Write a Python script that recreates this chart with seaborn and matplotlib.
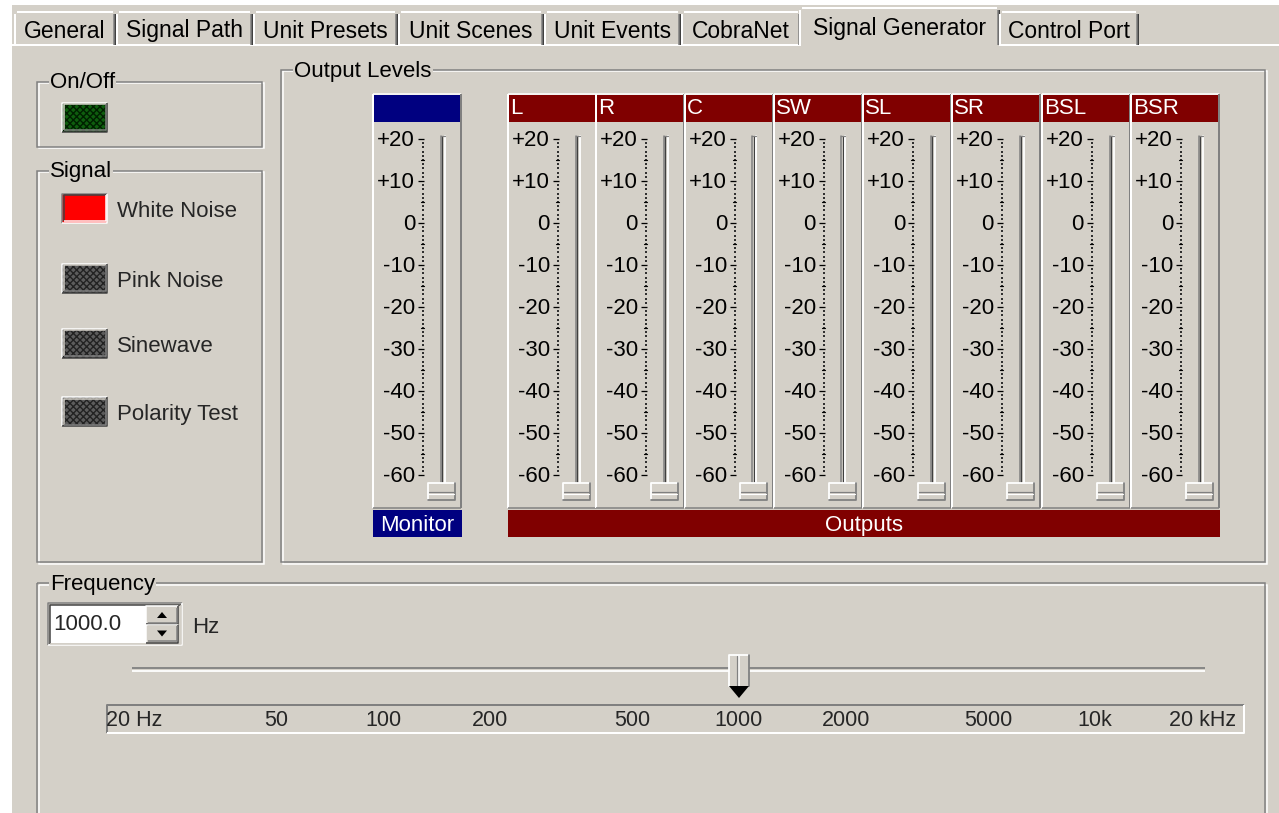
import numpy as np
import matplotlib
matplotlib.use("Agg")
import matplotlib.pyplot as plt
from matplotlib.patches import Rectangle, Polygon
import seaborn as sns

# ---- data ----
tab_names = ["General", "Signal Path", "Unit Presets", "Unit Scenes", "Unit Events",
             "CobraNet", "Signal Generator", "Control Port"]
active_tab = "Signal Generator"
signal_names = ["White Noise", "Pink Noise", "Sinewave", "Polarity Test"]
signal_active = [True, False, False, False]
power_on = True
channel_names = ["L", "R", "C", "SW", "SL", "SR", "BSL", "BSR"]
db_ticks = [20, 10, 0, -10, -20, -30, -40, -50, -60]
db_labels = ["+20", "+10", "0", "-10", "-20", "-30", "-40", "-50", "-60"]
monitor_db = -64.0
output_db = [-64.0, -64.0, -64.0, -64.0, -64.0, -64.0, -64.0, -64.0]
freq_ticks = [20, 50, 100, 200, 500, 1000, 2000, 5000, 10000, 20000]
freq_labels = ["20 Hz", "50", "100", "200", "500", "1000", "2000", "5000", "10k", "20 kHz"]
freq_value = 1000.0

# ---- layout (pixels) ----
W, H = 1279, 813
PX = 0.72  # points per pixel at dpi 100
FACE = "#d4d0c8"
SHADOW = "#808080"
DARK = "#404040"
NAVY = "#000080"
MAROON = "#800000"
tab_edges = [14, 116, 253, 398, 544, 681, 801, 999, 1139]
monitor_x = 373
strip_x = [508, 596, 685, 774, 863, 952, 1042, 1131]
strip_w = 89
strip_top, strip_bot = 122, 508
db_px_top, db_px_per_db = 139, 4.2
signal_y = [208, 278, 343, 411]
FS = 16

sns.set_theme(style="white")
plt.rcParams["font.family"] = ["Liberation Sans", "DejaVu Sans"]

fig = plt.figure(figsize=(W / 100, H / 100), dpi=100)
fig.patch.set_facecolor("white")
ui = fig.add_axes([0, 0, 1, 1])
ui.set_xlim(0, W)
ui.set_ylim(H, 0)
ui.axis("off")


def line(xs, ys, color, lw=1.5, z=3):
    ui.plot(xs, ys, color=color, lw=lw * PX, solid_capstyle="butt", zorder=z)


def bevel(x0, y0, x1, y1, tl, br, lw=1.5, z=3):
    line([x0, x0, x1], [y1, y0, y0], tl, lw, z)
    line([x0, x1, x1], [y1, y1, y0], br, lw, z)


def raised(x0, y0, x1, y1, z=3):
    bevel(x0, y0, x1, y1, "white", DARK, 1.5, z)
    bevel(x0 + 1.5, y0 + 1.5, x1 - 1.5, y1 - 1.5, FACE, SHADOW, 1.5, z)


def sunken(x0, y0, x1, y1, z=3):
    bevel(x0, y0, x1, y1, SHADOW, "white", 1.5, z)
    bevel(x0 + 1.5, y0 + 1.5, x1 - 1.5, y1 - 1.5, DARK, FACE, 1.5, z)


def etched(x0, y0, x1, y1, label, lx):
    ui.add_patch(Rectangle((x0 + 1.5, y0 + 1.5), x1 - x0, y1 - y0, fill=False,
                           ec="white", lw=1.5 * PX, zorder=2))
    ui.add_patch(Rectangle((x0, y0), x1 - x0, y1 - y0, fill=False,
                           ec=SHADOW, lw=1.5 * PX, zorder=2))
    ui.text(lx, y0 + 1, label, fontsize=FS, va="center", ha="left", color="black", zorder=4,
            bbox=dict(fc=FACE, ec="none", pad=1.0))


# window background
ui.add_patch(Rectangle((12, 5), W - 12, H - 5, fc=FACE, ec="none", zorder=0))

# ---- tabs ----
line([12, tab_edges[6]], [45, 45], "white", 2)
line([tab_edges[7], W], [45, 45], "white", 2)
for i, name in enumerate(tab_names):
    x0, x1 = tab_edges[i] + 1, tab_edges[i + 1] - 1
    sel = name == active_tab
    top = 8 if sel else 12
    if sel:
        x0 -= 2
        x1 += 1
    line([x0, x0], [45, top + 2], "white", 2)
    line([x0 + 2, x1 - 2], [top, top], "white", 2)
    line([x1, x1], [top + 2, 45], DARK, 2)
    line([x1 - 1.5, x1 - 1.5], [top + 2, 45], SHADOW, 1.5)
    ui.text((x0 + x1) / 2, 28.5 if sel else 31, name, fontsize=FS + 0.5, ha="center",
            va="center", color="black", zorder=4)

# ---- group boxes ----
etched(37, 82, 262, 147, "On/Off", 50)
etched(37, 171, 262, 562, "Signal", 50)
etched(281, 70, 1265, 562, "Output Levels", 294)
etched(37, 583, 1265, 840, "Frequency", 50)

# on/off button
ui.add_patch(Rectangle((62, 103), 45, 29, fc="#0e5e0e" if power_on else "#5a5a5a",
                       ec="#002000", hatch="xxxxx", lw=0, zorder=2))
raised(62, 103, 107, 132)

# signal buttons
for name, y, on in zip(signal_names, signal_y, signal_active):
    if on:
        ui.add_patch(Rectangle((62, y - 14), 45, 29, fc="red", ec="none", zorder=2))
        bevel(62, y - 14, 107, y + 15, SHADOW, "white", 1.5)
        bevel(63.5, y - 12.5, 105.5, y + 13.5, DARK, "white", 1.5)
    else:
        ui.add_patch(Rectangle((62, y - 14), 45, 29, fc="#5c5c5c", ec="#222222",
                               hatch="xxxxx", lw=0, zorder=2))
        raised(62, y - 14, 107, y + 15)
    ui.text(117, y + 3, name, fontsize=FS, ha="left", va="center", zorder=4)


# ---- level strips ----
db_top = db_ticks[0] + (db_px_top - strip_top) / db_px_per_db
db_bot = db_top - (strip_bot - strip_top) / db_px_per_db


def strip(x0, header, header_col, level):
    # chrome
    ui.add_patch(Rectangle((x0, 95), strip_w - 1, 27, fc=header_col, ec="none", zorder=2))
    line([x0, x0 + strip_w - 1], [94, 94], "white", 1.5)
    line([x0, x0], [94, strip_bot], "white", 2)
    line([x0 + strip_w - 1, x0 + strip_w - 1], [94, strip_bot], SHADOW, 2)
    line([x0, x0 + strip_w - 1], [strip_bot, strip_bot], SHADOW, 1.5)
    if header:
        ui.text(x0 + 2, 109, header, fontsize=FS, color="white", ha="left",
                va="center", zorder=4)
    # scale axes in dB
    ax = fig.add_axes([x0 / W, 1 - strip_bot / H, strip_w / W, (strip_bot - strip_top) / H])
    ax.set_xlim(0, strip_w)
    ax.set_ylim(db_bot, db_top)
    ax.axis("off")
    ax.patch.set_alpha(0)
    for v, lab in zip(db_ticks, db_labels):
        ax.text(42, v - 0.4, lab, fontsize=FS, ha="right", va="center", color="black")
        ax.plot([45, 51], [v, v], color="black", lw=1.3 * PX, solid_capstyle="butt")
    minor = np.array([d for d in range(db_ticks[-1], db_ticks[0]) if d % 10])
    sns.scatterplot(x=np.full(minor.size, 50.0), y=minor, ax=ax, s=1.6, color="#303030",
                    marker="s", linewidth=0, legend=False)
    half = minor[minor % 5 == 0]
    for v in half:
        ax.plot([48, 51], [v, v], color="black", lw=1.2 * PX)
    # groove
    g_top, g_bot = 20.6, -64.8
    ax.plot([67.5, 67.5], [g_bot, g_top], color=SHADOW, lw=1.5 * PX)
    ax.plot([69, 69], [g_bot, g_top], color=DARK, lw=1.2 * PX)
    ax.plot([71.5, 71.5], [g_bot, g_top], color="white", lw=1.8 * PX)
    ax.plot([67.5, 71.5], [g_top, g_top], color=SHADOW, lw=1.2 * PX)
    # thumb
    th = 2.0
    ax.add_patch(Rectangle((55, level - th), 27, 2 * th, fc=FACE, ec="none", zorder=3))
    ax.plot([55, 55, 82], [level - th, level + th, level + th], color="white", lw=1.8 * PX, zorder=4)
    ax.plot([55, 82, 82], [level - th, level - th, level + th], color=SHADOW, lw=1.8 * PX, zorder=4)
    ax.plot([56, 81], [level - 0.15, level - 0.15], color=SHADOW, lw=1.2 * PX, zorder=4)
    ax.plot([56, 81], [level - 0.5, level - 0.5], color="white", lw=1.2 * PX, zorder=4)
    return ax


strip(monitor_x, "", NAVY, monitor_db)
for x0, name, lv in zip(strip_x, channel_names, output_db):
    strip(x0, name, MAROON, lv)

ui.add_patch(Rectangle((monitor_x, 510), strip_w, 27, fc=NAVY, ec="none", zorder=2))
ui.text(monitor_x + strip_w / 2, 525, "Monitor", fontsize=FS, color="white",
        ha="center", va="center", zorder=4)
ui.add_patch(Rectangle((strip_x[0], 510), strip_x[-1] + strip_w - strip_x[0], 27,
                       fc=MAROON, ec="none", zorder=2))
ui.text((strip_x[0] + strip_x[-1] + strip_w) / 2, 525, "Outputs", fontsize=FS,
        color="white", ha="center", va="center", zorder=4)

# ---- frequency ----
ui.add_patch(Rectangle((50, 605), 96, 38, fc="white", ec="none", zorder=2))
sunken(48, 603, 182, 645)
ui.text(53, 624, f"{freq_value:.1f}", fontsize=FS, ha="left", va="center", zorder=4)
for yb, up in [(606, True), (624.5, False)]:
    ui.add_patch(Rectangle((146, yb), 32, 18, fc=FACE, ec="none", zorder=2))
    raised(146, yb, 178, yb + 18)
    cy = yb + 9
    if up:
        tri = [(157, cy + 3), (167, cy + 3), (162, cy - 3)]
    else:
        tri = [(157, cy - 3), (167, cy - 3), (162, cy + 3)]
    ui.add_patch(Polygon(tri, closed=True, fc="black", ec="none", zorder=4))
ui.text(192, 627, "Hz", fontsize=FS, ha="left", va="center", zorder=4)

# log-frequency scale axes spanning the scale box
box_x0, box_x1 = 107, 1244
px_per_dec = 356
f_left = 1000 * 10 ** ((box_x0 - 739) / px_per_dec)
f_right = 1000 * 10 ** ((box_x1 - 739) / px_per_dec)
fax = fig.add_axes([box_x0 / W, 1 - 733 / H, (box_x1 - box_x0) / W, 28 / H])
fax.set_xscale("log")
fax.set_xlim(f_left, f_right)
fax.set_ylim(0, 1)
fax.axis("off")
fax.patch.set_alpha(0)
for f, lab in zip(freq_ticks, freq_labels):
    fax.text(f, 0.45, lab, fontsize=FS - 0.5, ha="center", va="center")
bevel(box_x0, 705, box_x1, 733, SHADOW, "white", 2)


def fx(f):
    disp = fax.transData.transform((f, 0.5))
    return ui.transData.inverted().transform(disp)[0]


# slider groove from 20 Hz to 20 kHz
g0, g1 = fx(freq_ticks[0]) - 2, fx(freq_ticks[-1]) + 3
line([g0, g1], [668, 668], SHADOW, 1.8)
line([g0, g1], [670.5, 670.5], "white", 1.8)
tx = fx(freq_value)
ui.add_patch(Rectangle((tx - 10, 655), 20, 31, fc=FACE, ec="none", zorder=5))
ui.plot([tx - 10, tx - 10, tx + 10], [686, 655, 655], color="white", lw=1.8 * PX, zorder=6)
ui.plot([tx + 10, tx + 10], [655, 686], color=SHADOW, lw=1.8 * PX, zorder=6)
ui.plot([tx, tx], [656, 686], color="white", lw=1.5 * PX, zorder=6)
ui.plot([tx - 1.5, tx - 1.5], [656, 686], color=SHADOW, lw=1.2 * PX, zorder=6)
ui.add_patch(Polygon([(tx - 10, 686), (tx + 10, 686), (tx, 698)], closed=True,
                     fc="black", ec="none", zorder=6))

fig.savefig("out.png", dpi=100, facecolor=fig.get_facecolor())
